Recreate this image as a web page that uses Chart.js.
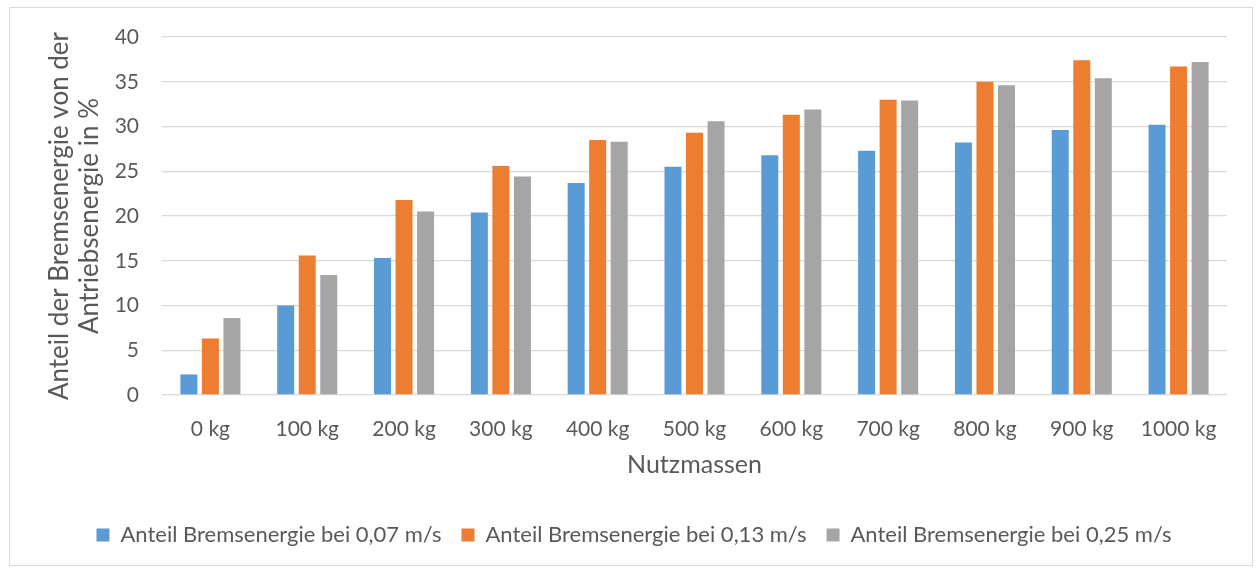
<!DOCTYPE html>
<html>
<head>
<meta charset="utf-8">
<script src="https://cdn.jsdelivr.net/npm/chart.js@4.4.1/dist/chart.umd.min.js"></script>
<style>
  html, body { margin: 0; padding: 0; background: #fff; }
  #wrap { width: 1257px; height: 568px; }
</style>
</head>
<body>
<div id="wrap"><canvas id="bremsChart" width="1257" height="568"></canvas></div>
<script>
// Nutzmassen (x axis categories)
const massLabels = ['0 kg', '100 kg', '200 kg', '300 kg', '400 kg', '500 kg',
  '600 kg', '700 kg', '800 kg', '900 kg', '1000 kg'];

// Anteil Bremsenergie in % per speed
const share007 = [2.3, 10.0, 15.3, 20.4, 23.7, 25.5, 26.8, 27.3, 28.2, 29.6, 30.2];
const share013 = [6.3, 15.6, 21.8, 25.6, 28.5, 29.3, 31.3, 33.0, 35.0, 37.4, 36.7];
const share025 = [8.6, 13.4, 20.5, 24.4, 28.3, 30.6, 31.9, 32.9, 34.6, 35.4, 37.2];

const seriesNames = ['Anteil Bremsenergie bei 0,07 m/s', 'Anteil Bremsenergie bei 0,13 m/s',
  'Anteil Bremsenergie bei 0,25 m/s'];

const yTicks = { min: 0, max: 40, step: 5 };

const textColor = '#595959';
const gridColor = '#d9d9d9';
const fontFamily = 'Lato, "Open Sans", sans-serif';

// light frame around the whole chart like the Excel chart area
const framePlugin = {
  id: 'frame',
  beforeDraw(chart) {
    const ctx = chart.ctx;
    ctx.save();
    ctx.strokeStyle = '#d9d9d9';
    ctx.lineWidth = 1;
    ctx.strokeRect(9.5, 7.5, 1243, 558);
    ctx.restore();
  }
};

const ctx = document.getElementById('bremsChart').getContext('2d');
const chart = new Chart(ctx, {
  type: 'bar',
  data: {
    labels: massLabels,
    datasets: [
      { label: seriesNames[0], data: share007, backgroundColor: '#5b9bd5' },
      { label: seriesNames[1], data: share013, backgroundColor: '#ed7d31' },
      { label: seriesNames[2], data: share025, backgroundColor: '#a5a5a5' }
    ]
  },
  options: {
    responsive: false,
    animation: false,
    datasets: {
      bar: { categoryPercentage: 0.667, barPercentage: 0.79 }
    },
    layout: {
      padding: { left: 41, right: 30, top: 37, bottom: 12 }
    },
    scales: {
      x: {
        grid: { display: false, drawTicks: false },
        border: { display: false },
        ticks: {
          color: textColor,
          padding: 22,
          maxRotation: 0,
          font: { family: fontFamily, size: 21 }
        },
        title: {
          display: true,
          text: 'Nutzmassen',
          color: textColor,
          padding: { top: 8, bottom: 24 },
          font: { family: fontFamily, size: 25 }
        },
        afterFit(scale) {
          scale.height = 109;
        }
      },
      y: {
        min: yTicks.min,
        max: yTicks.max,
        grid: { color: gridColor, lineWidth: 1.3, drawTicks: false },
        border: { display: false },
        ticks: {
          stepSize: yTicks.step,
          color: textColor,
          padding: 23,
          font: { family: fontFamily, size: 21 }
        },
        title: {
          display: true,
          text: ['Anteil der Bremsenergie von der', 'Antriebsenergie in %'],
          color: textColor,
          padding: { top: 4, bottom: 4 },
          font: { family: fontFamily, size: 26, lineHeight: 1.15 }
        },
        afterFit(scale) {
          scale.width = 121;
        }
      }
    },
    plugins: {
      legend: {
        position: 'bottom',
        labels: {
          color: textColor,
          boxWidth: 13,
          boxHeight: 13,
          padding: 20,
          font: { family: fontFamily, size: 22 }
        }
      },
      tooltip: { enabled: false }
    }
  },
  plugins: [framePlugin]
});
</script>
</body>
</html>
